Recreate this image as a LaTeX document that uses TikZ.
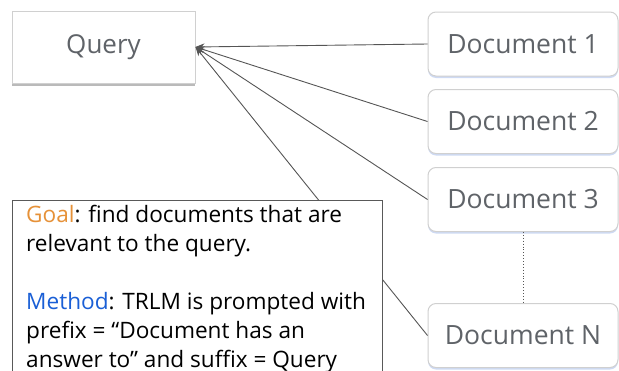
\documentclass[tikz,border=0pt]{standalone}
\usepackage{fontspec}
\setmainfont{Open Sans}
\usetikzlibrary{arrows.meta,shadows}
\definecolor{labelgray}{HTML}{5F6368}
\definecolor{edgegray}{HTML}{555555}
\definecolor{boxline}{HTML}{D0D0D0}
\definecolor{goalorange}{HTML}{E69138}
\definecolor{methodblue}{HTML}{1A5FD6}
\definecolor{docshadow}{HTML}{C9D6F2}
\tikzset{
  querybox/.style={draw=boxline, line width=1pt, fill=white, inner sep=0pt,
    minimum width=183pt, minimum height=72pt, text=labelgray,
    font=\fontsize{26}{30}\selectfont,
    drop shadow={shadow xshift=0pt, shadow yshift=-3pt, fill=black!45, opacity=0.6}},
  docbox/.style={draw=boxline, line width=1pt, fill=white, rounded corners=8pt,
    inner sep=0pt, minimum width=190pt, minimum height=64pt, text=labelgray,
    font=\fontsize{26.5}{30}\selectfont,
    drop shadow={shadow xshift=0pt, shadow yshift=-2pt, fill=docshadow, opacity=0.9}},
  notebox/.style={draw=black!65, line width=0.9pt, fill=white, inner sep=0pt,
    minimum width=370pt, minimum height=180pt},
  link/.style={draw=edgegray, line width=0.9pt, -{Stealth[length=9pt,width=7pt]}},
}
\begin{document}
\begin{tikzpicture}[x=1pt,y=1pt]
  \useasboundingbox (0,0) rectangle (619,-370);

  % query and candidate documents
  \node[querybox] (query) at (103.5,-47) {Query};
  \node[docbox] (d1) at (523,-44) {Document 1};
  \node[docbox] (d2) at (523,-121.5) {Document 2};
  \node[docbox] (d3) at (523,-199.5) {Document 3};
  \node[docbox] (dn) at (523,-335.5) {Document N};

  % every document points back to the query
  \draw[link] (d1.west) -- (query.east);
  \draw[link] (d2.west) -- (query.east);
  \draw[link] (d3.west) -- (query.east);
  \draw[link] (dn.west) -- (query.east);

  % elided documents
  \draw[edgegray, line width=0.9pt, dotted] (d3.south) -- (dn.north);

  % explanation box, drawn over the connector to Document N
  \node[notebox, anchor=north west] (note) at (12,-200) {};
  \node[anchor=base west, inner sep=0pt] (notetext) at (26,-222)
    {\begin{minipage}[t]{360pt}\fontsize{22.6}{29}\selectfont
      \textcolor{goalorange}{Goal}: find documents that are\\
      relevant to the query.\\[29pt]
      \textcolor{methodblue}{Method}: TRLM is prompted with\\
      prefix = “Document has an\\
      answer to” and suffix = Query
    \end{minipage}};
\end{tikzpicture}
\end{document}
